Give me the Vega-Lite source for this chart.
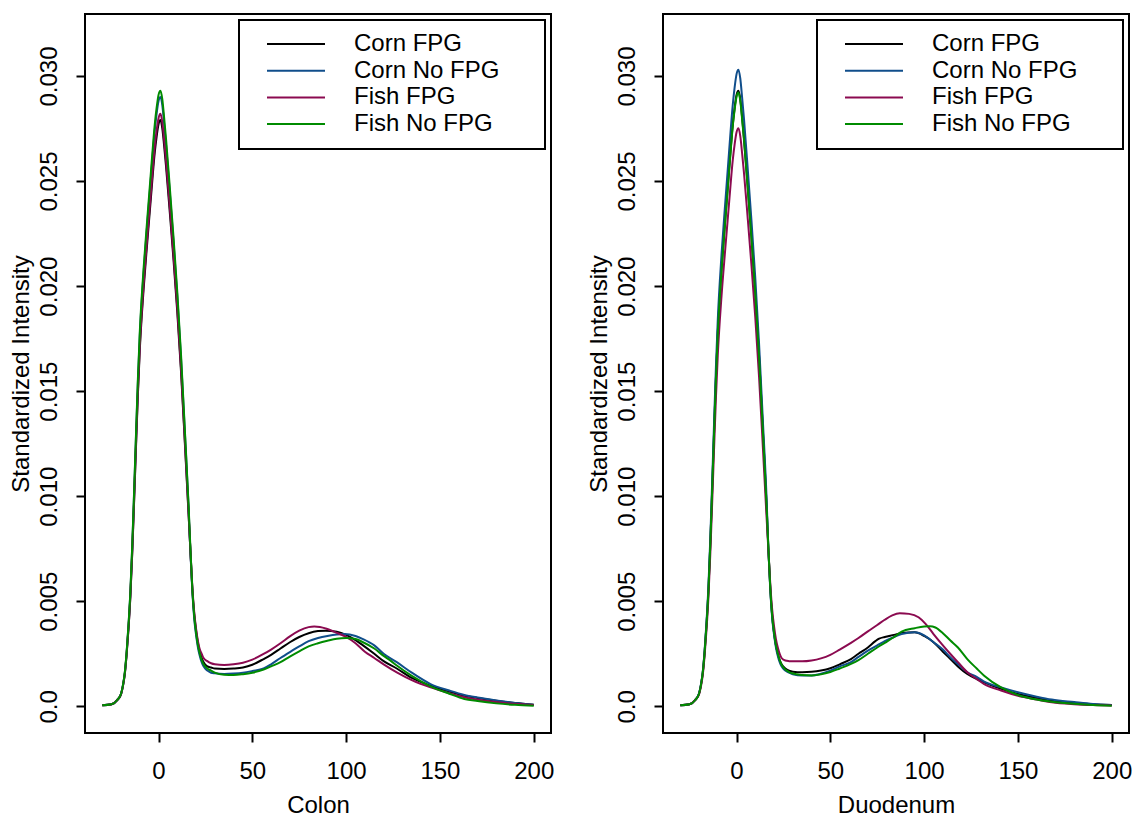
{
  "$schema": "https://vega.github.io/schema/vega-lite/v6.json",
  "padding": {"left": 8, "top": 13, "right": 0, "bottom": 0},
  "background": "white",
  "config": {
    "font": "Liberation Sans",
    "view": {"stroke": "black", "strokeWidth": 2},
    "axis": {
      "domain": false, "grid": false,
      "tickColor": "black", "tickWidth": 2, "tickSize": 9,
      "labelFont": "Liberation Sans", "labelFontSize": 24, "labelColor": "black",
      "titleFont": "Liberation Sans", "titleFontSize": 24, "titleFontWeight": "normal", "titleColor": "black",
      "labelOverlap": false
    },
    "legend": {
      "orient": "top-right", "offset": 6, "padding": 12,
      "fillColor": "white", "strokeColor": "black", "strokeWidth": 2,
      "symbolType": "M-6,0H6", "symbolSize": 93.4, "symbolStrokeWidth": 2,
      "symbolOffset": 33, "labelOffset": 46,
      "labelFont": "Liberation Sans", "labelFontSize": 24, "labelColor": "black",
      "labelLimit": 400, "rowPadding": 2.7
    }
  },
  "datasets": {
    "d": [
      {"p":"Colon","s":"Corn FPG","x":-30,"y":0.00005},{"p":"Colon","s":"Corn FPG","x":-25,"y":0.0001},{"p":"Colon","s":"Corn FPG","x":-22,"y":0.0003},{"p":"Colon","s":"Corn FPG","x":-20,"y":0.00057},{"p":"Colon","s":"Corn FPG","x":-19,"y":0.00095},{"p":"Colon","s":"Corn FPG","x":-18,"y":0.00152},{"p":"Colon","s":"Corn FPG","x":-17,"y":0.00248},{"p":"Colon","s":"Corn FPG","x":-16,"y":0.00371},{"p":"Colon","s":"Corn FPG","x":-15,"y":0.00524},{"p":"Colon","s":"Corn FPG","x":-14,"y":0.00733},{"p":"Colon","s":"Corn FPG","x":-13,"y":0.00981},{"p":"Colon","s":"Corn FPG","x":-12,"y":0.01238},{"p":"Colon","s":"Corn FPG","x":-11,"y":0.01485},{"p":"Colon","s":"Corn FPG","x":-10,"y":0.01695},{"p":"Colon","s":"Corn FPG","x":-8,"y":0.0198},{"p":"Colon","s":"Corn FPG","x":-6,"y":0.02209},{"p":"Colon","s":"Corn FPG","x":-4,"y":0.02428},{"p":"Colon","s":"Corn FPG","x":-2,"y":0.02637},{"p":"Colon","s":"Corn FPG","x":-1,"y":0.02713},{"p":"Colon","s":"Corn FPG","x":0,"y":0.0277},{"p":"Colon","s":"Corn FPG","x":1,"y":0.0279},{"p":"Colon","s":"Corn FPG","x":2,"y":0.02751},{"p":"Colon","s":"Corn FPG","x":3,"y":0.02666},{"p":"Colon","s":"Corn FPG","x":4,"y":0.0257},{"p":"Colon","s":"Corn FPG","x":6,"y":0.02351},{"p":"Colon","s":"Corn FPG","x":8,"y":0.02123},{"p":"Colon","s":"Corn FPG","x":10,"y":0.01875},{"p":"Colon","s":"Corn FPG","x":12,"y":0.0159},{"p":"Colon","s":"Corn FPG","x":14,"y":0.01257},{"p":"Colon","s":"Corn FPG","x":16,"y":0.00914},{"p":"Colon","s":"Corn FPG","x":17,"y":0.0074},{"p":"Colon","s":"Corn FPG","x":18,"y":0.0056},{"p":"Colon","s":"Corn FPG","x":19,"y":0.0044},{"p":"Colon","s":"Corn FPG","x":20,"y":0.0036},{"p":"Colon","s":"Corn FPG","x":21,"y":0.003},{"p":"Colon","s":"Corn FPG","x":22,"y":0.0026},{"p":"Colon","s":"Corn FPG","x":23,"y":0.0023},{"p":"Colon","s":"Corn FPG","x":24,"y":0.0021},{"p":"Colon","s":"Corn FPG","x":26,"y":0.0019},{"p":"Colon","s":"Corn FPG","x":28,"y":0.00185},{"p":"Colon","s":"Corn FPG","x":30,"y":0.0018},{"p":"Colon","s":"Corn FPG","x":35,"y":0.00178},{"p":"Colon","s":"Corn FPG","x":40,"y":0.0018},{"p":"Colon","s":"Corn FPG","x":45,"y":0.00185},{"p":"Colon","s":"Corn FPG","x":50,"y":0.00198},{"p":"Colon","s":"Corn FPG","x":56,"y":0.00225},{"p":"Colon","s":"Corn FPG","x":60,"y":0.00245},{"p":"Colon","s":"Corn FPG","x":65,"y":0.00275},{"p":"Colon","s":"Corn FPG","x":70,"y":0.00305},{"p":"Colon","s":"Corn FPG","x":75,"y":0.0033},{"p":"Colon","s":"Corn FPG","x":80,"y":0.00348},{"p":"Colon","s":"Corn FPG","x":85,"y":0.00358},{"p":"Colon","s":"Corn FPG","x":89,"y":0.0036},{"p":"Colon","s":"Corn FPG","x":95,"y":0.00355},{"p":"Colon","s":"Corn FPG","x":100,"y":0.0034},{"p":"Colon","s":"Corn FPG","x":105,"y":0.00315},{"p":"Colon","s":"Corn FPG","x":109,"y":0.0029},{"p":"Colon","s":"Corn FPG","x":115,"y":0.0025},{"p":"Colon","s":"Corn FPG","x":120,"y":0.00215},{"p":"Colon","s":"Corn FPG","x":127,"y":0.0018},{"p":"Colon","s":"Corn FPG","x":135,"y":0.00135},{"p":"Colon","s":"Corn FPG","x":145,"y":0.00098},{"p":"Colon","s":"Corn FPG","x":155,"y":0.0007},{"p":"Colon","s":"Corn FPG","x":163,"y":0.0005},{"p":"Colon","s":"Corn FPG","x":170,"y":0.0004},{"p":"Colon","s":"Corn FPG","x":180,"y":0.00027},{"p":"Colon","s":"Corn FPG","x":190,"y":0.00016},{"p":"Colon","s":"Corn FPG","x":200,"y":0.00008},

      {"p":"Colon","s":"Corn No FPG","x":-30,"y":0.00005},{"p":"Colon","s":"Corn No FPG","x":-25,"y":0.0001},{"p":"Colon","s":"Corn No FPG","x":-22,"y":0.0003},{"p":"Colon","s":"Corn No FPG","x":-20,"y":0.00059},{"p":"Colon","s":"Corn No FPG","x":-19,"y":0.00099},{"p":"Colon","s":"Corn No FPG","x":-18,"y":0.00158},{"p":"Colon","s":"Corn No FPG","x":-17,"y":0.00257},{"p":"Colon","s":"Corn No FPG","x":-16,"y":0.00386},{"p":"Colon","s":"Corn No FPG","x":-15,"y":0.00545},{"p":"Colon","s":"Corn No FPG","x":-14,"y":0.00762},{"p":"Colon","s":"Corn No FPG","x":-13,"y":0.0102},{"p":"Colon","s":"Corn No FPG","x":-12,"y":0.01287},{"p":"Colon","s":"Corn No FPG","x":-11,"y":0.01544},{"p":"Colon","s":"Corn No FPG","x":-10,"y":0.01762},{"p":"Colon","s":"Corn No FPG","x":-8,"y":0.02059},{"p":"Colon","s":"Corn No FPG","x":-6,"y":0.02297},{"p":"Colon","s":"Corn No FPG","x":-4,"y":0.02525},{"p":"Colon","s":"Corn No FPG","x":-2,"y":0.02742},{"p":"Colon","s":"Corn No FPG","x":-1,"y":0.02822},{"p":"Colon","s":"Corn No FPG","x":0,"y":0.02881},{"p":"Colon","s":"Corn No FPG","x":1,"y":0.029},{"p":"Colon","s":"Corn No FPG","x":2,"y":0.02861},{"p":"Colon","s":"Corn No FPG","x":3,"y":0.02772},{"p":"Colon","s":"Corn No FPG","x":4,"y":0.02673},{"p":"Colon","s":"Corn No FPG","x":6,"y":0.02445},{"p":"Colon","s":"Corn No FPG","x":8,"y":0.02208},{"p":"Colon","s":"Corn No FPG","x":10,"y":0.0195},{"p":"Colon","s":"Corn No FPG","x":12,"y":0.01653},{"p":"Colon","s":"Corn No FPG","x":14,"y":0.01307},{"p":"Colon","s":"Corn No FPG","x":16,"y":0.0095},{"p":"Colon","s":"Corn No FPG","x":17,"y":0.0073},{"p":"Colon","s":"Corn No FPG","x":18,"y":0.0055},{"p":"Colon","s":"Corn No FPG","x":19,"y":0.0042},{"p":"Colon","s":"Corn No FPG","x":20,"y":0.0034},{"p":"Colon","s":"Corn No FPG","x":21,"y":0.0028},{"p":"Colon","s":"Corn No FPG","x":22,"y":0.0024},{"p":"Colon","s":"Corn No FPG","x":23,"y":0.0021},{"p":"Colon","s":"Corn No FPG","x":24,"y":0.0019},{"p":"Colon","s":"Corn No FPG","x":26,"y":0.0017},{"p":"Colon","s":"Corn No FPG","x":28,"y":0.0016},{"p":"Colon","s":"Corn No FPG","x":30,"y":0.00157},{"p":"Colon","s":"Corn No FPG","x":35,"y":0.00154},{"p":"Colon","s":"Corn No FPG","x":40,"y":0.00156},{"p":"Colon","s":"Corn No FPG","x":45,"y":0.0016},{"p":"Colon","s":"Corn No FPG","x":50,"y":0.00168},{"p":"Colon","s":"Corn No FPG","x":56,"y":0.0018},{"p":"Colon","s":"Corn No FPG","x":60,"y":0.002},{"p":"Colon","s":"Corn No FPG","x":65,"y":0.0023},{"p":"Colon","s":"Corn No FPG","x":70,"y":0.00258},{"p":"Colon","s":"Corn No FPG","x":75,"y":0.00285},{"p":"Colon","s":"Corn No FPG","x":80,"y":0.0031},{"p":"Colon","s":"Corn No FPG","x":85,"y":0.00325},{"p":"Colon","s":"Corn No FPG","x":90,"y":0.00335},{"p":"Colon","s":"Corn No FPG","x":95,"y":0.00342},{"p":"Colon","s":"Corn No FPG","x":99,"y":0.00344},{"p":"Colon","s":"Corn No FPG","x":105,"y":0.00335},{"p":"Colon","s":"Corn No FPG","x":109,"y":0.0032},{"p":"Colon","s":"Corn No FPG","x":115,"y":0.0029},{"p":"Colon","s":"Corn No FPG","x":120,"y":0.0025},{"p":"Colon","s":"Corn No FPG","x":127,"y":0.0021},{"p":"Colon","s":"Corn No FPG","x":135,"y":0.0016},{"p":"Colon","s":"Corn No FPG","x":145,"y":0.00106},{"p":"Colon","s":"Corn No FPG","x":155,"y":0.00075},{"p":"Colon","s":"Corn No FPG","x":163,"y":0.00054},{"p":"Colon","s":"Corn No FPG","x":170,"y":0.00042},{"p":"Colon","s":"Corn No FPG","x":180,"y":0.00028},{"p":"Colon","s":"Corn No FPG","x":190,"y":0.00016},{"p":"Colon","s":"Corn No FPG","x":200,"y":0.00008},

      {"p":"Colon","s":"Fish FPG","x":-30,"y":0.00005},{"p":"Colon","s":"Fish FPG","x":-25,"y":0.0001},{"p":"Colon","s":"Fish FPG","x":-22,"y":0.0003},{"p":"Colon","s":"Fish FPG","x":-20,"y":0.00058},{"p":"Colon","s":"Fish FPG","x":-19,"y":0.00096},{"p":"Colon","s":"Fish FPG","x":-18,"y":0.00154},{"p":"Colon","s":"Fish FPG","x":-17,"y":0.0025},{"p":"Colon","s":"Fish FPG","x":-16,"y":0.00375},{"p":"Colon","s":"Fish FPG","x":-15,"y":0.00529},{"p":"Colon","s":"Fish FPG","x":-14,"y":0.00741},{"p":"Colon","s":"Fish FPG","x":-13,"y":0.00991},{"p":"Colon","s":"Fish FPG","x":-12,"y":0.01251},{"p":"Colon","s":"Fish FPG","x":-11,"y":0.01501},{"p":"Colon","s":"Fish FPG","x":-10,"y":0.01712},{"p":"Colon","s":"Fish FPG","x":-8,"y":0.02001},{"p":"Colon","s":"Fish FPG","x":-6,"y":0.02232},{"p":"Colon","s":"Fish FPG","x":-4,"y":0.02453},{"p":"Colon","s":"Fish FPG","x":-2,"y":0.02665},{"p":"Colon","s":"Fish FPG","x":-1,"y":0.02742},{"p":"Colon","s":"Fish FPG","x":0,"y":0.02799},{"p":"Colon","s":"Fish FPG","x":1,"y":0.0282},{"p":"Colon","s":"Fish FPG","x":2,"y":0.0278},{"p":"Colon","s":"Fish FPG","x":3,"y":0.02694},{"p":"Colon","s":"Fish FPG","x":4,"y":0.02597},{"p":"Colon","s":"Fish FPG","x":6,"y":0.02376},{"p":"Colon","s":"Fish FPG","x":8,"y":0.02145},{"p":"Colon","s":"Fish FPG","x":10,"y":0.01895},{"p":"Colon","s":"Fish FPG","x":12,"y":0.01607},{"p":"Colon","s":"Fish FPG","x":14,"y":0.0127},{"p":"Colon","s":"Fish FPG","x":16,"y":0.00924},{"p":"Colon","s":"Fish FPG","x":17,"y":0.0074},{"p":"Colon","s":"Fish FPG","x":18,"y":0.0057},{"p":"Colon","s":"Fish FPG","x":19,"y":0.0045},{"p":"Colon","s":"Fish FPG","x":20,"y":0.0037},{"p":"Colon","s":"Fish FPG","x":21,"y":0.0031},{"p":"Colon","s":"Fish FPG","x":22,"y":0.0027},{"p":"Colon","s":"Fish FPG","x":23,"y":0.0025},{"p":"Colon","s":"Fish FPG","x":24,"y":0.0023},{"p":"Colon","s":"Fish FPG","x":26,"y":0.00215},{"p":"Colon","s":"Fish FPG","x":28,"y":0.00205},{"p":"Colon","s":"Fish FPG","x":30,"y":0.002},{"p":"Colon","s":"Fish FPG","x":35,"y":0.00197},{"p":"Colon","s":"Fish FPG","x":40,"y":0.002},{"p":"Colon","s":"Fish FPG","x":45,"y":0.00207},{"p":"Colon","s":"Fish FPG","x":50,"y":0.00222},{"p":"Colon","s":"Fish FPG","x":56,"y":0.00249},{"p":"Colon","s":"Fish FPG","x":60,"y":0.0027},{"p":"Colon","s":"Fish FPG","x":65,"y":0.003},{"p":"Colon","s":"Fish FPG","x":70,"y":0.00333},{"p":"Colon","s":"Fish FPG","x":75,"y":0.0036},{"p":"Colon","s":"Fish FPG","x":80,"y":0.00377},{"p":"Colon","s":"Fish FPG","x":83,"y":0.0038},{"p":"Colon","s":"Fish FPG","x":86,"y":0.00378},{"p":"Colon","s":"Fish FPG","x":90,"y":0.00368},{"p":"Colon","s":"Fish FPG","x":95,"y":0.0035},{"p":"Colon","s":"Fish FPG","x":100,"y":0.0033},{"p":"Colon","s":"Fish FPG","x":105,"y":0.003},{"p":"Colon","s":"Fish FPG","x":110,"y":0.0026},{"p":"Colon","s":"Fish FPG","x":115,"y":0.0023},{"p":"Colon","s":"Fish FPG","x":120,"y":0.002},{"p":"Colon","s":"Fish FPG","x":127,"y":0.00162},{"p":"Colon","s":"Fish FPG","x":135,"y":0.00125},{"p":"Colon","s":"Fish FPG","x":145,"y":0.0009},{"p":"Colon","s":"Fish FPG","x":155,"y":0.00062},{"p":"Colon","s":"Fish FPG","x":163,"y":0.00043},{"p":"Colon","s":"Fish FPG","x":175,"y":0.00025},{"p":"Colon","s":"Fish FPG","x":190,"y":0.00012},{"p":"Colon","s":"Fish FPG","x":200,"y":0.00006},

      {"p":"Colon","s":"Fish No FPG","x":-30,"y":0.00005},{"p":"Colon","s":"Fish No FPG","x":-25,"y":0.0001},{"p":"Colon","s":"Fish No FPG","x":-22,"y":0.0003},{"p":"Colon","s":"Fish No FPG","x":-20,"y":0.0006},{"p":"Colon","s":"Fish No FPG","x":-19,"y":0.001},{"p":"Colon","s":"Fish No FPG","x":-18,"y":0.0016},{"p":"Colon","s":"Fish No FPG","x":-17,"y":0.0026},{"p":"Colon","s":"Fish No FPG","x":-16,"y":0.0039},{"p":"Colon","s":"Fish No FPG","x":-15,"y":0.0055},{"p":"Colon","s":"Fish No FPG","x":-14,"y":0.0077},{"p":"Colon","s":"Fish No FPG","x":-13,"y":0.0103},{"p":"Colon","s":"Fish No FPG","x":-12,"y":0.013},{"p":"Colon","s":"Fish No FPG","x":-11,"y":0.0156},{"p":"Colon","s":"Fish No FPG","x":-10,"y":0.0178},{"p":"Colon","s":"Fish No FPG","x":-8,"y":0.0208},{"p":"Colon","s":"Fish No FPG","x":-6,"y":0.0232},{"p":"Colon","s":"Fish No FPG","x":-4,"y":0.0255},{"p":"Colon","s":"Fish No FPG","x":-2,"y":0.0277},{"p":"Colon","s":"Fish No FPG","x":-1,"y":0.0285},{"p":"Colon","s":"Fish No FPG","x":0,"y":0.0291},{"p":"Colon","s":"Fish No FPG","x":1,"y":0.0293},{"p":"Colon","s":"Fish No FPG","x":2,"y":0.0289},{"p":"Colon","s":"Fish No FPG","x":3,"y":0.028},{"p":"Colon","s":"Fish No FPG","x":4,"y":0.027},{"p":"Colon","s":"Fish No FPG","x":6,"y":0.0247},{"p":"Colon","s":"Fish No FPG","x":8,"y":0.0223},{"p":"Colon","s":"Fish No FPG","x":10,"y":0.0197},{"p":"Colon","s":"Fish No FPG","x":12,"y":0.0167},{"p":"Colon","s":"Fish No FPG","x":14,"y":0.0132},{"p":"Colon","s":"Fish No FPG","x":16,"y":0.0096},{"p":"Colon","s":"Fish No FPG","x":17,"y":0.0075},{"p":"Colon","s":"Fish No FPG","x":18,"y":0.0056},{"p":"Colon","s":"Fish No FPG","x":19,"y":0.0043},{"p":"Colon","s":"Fish No FPG","x":20,"y":0.0035},{"p":"Colon","s":"Fish No FPG","x":21,"y":0.0029},{"p":"Colon","s":"Fish No FPG","x":22,"y":0.0025},{"p":"Colon","s":"Fish No FPG","x":23,"y":0.0022},{"p":"Colon","s":"Fish No FPG","x":24,"y":0.002},{"p":"Colon","s":"Fish No FPG","x":26,"y":0.0018},{"p":"Colon","s":"Fish No FPG","x":28,"y":0.0017},{"p":"Colon","s":"Fish No FPG","x":30,"y":0.0016},{"p":"Colon","s":"Fish No FPG","x":35,"y":0.0015},{"p":"Colon","s":"Fish No FPG","x":40,"y":0.00149},{"p":"Colon","s":"Fish No FPG","x":45,"y":0.00153},{"p":"Colon","s":"Fish No FPG","x":50,"y":0.0016},{"p":"Colon","s":"Fish No FPG","x":56,"y":0.00175},{"p":"Colon","s":"Fish No FPG","x":60,"y":0.0019},{"p":"Colon","s":"Fish No FPG","x":65,"y":0.0021},{"p":"Colon","s":"Fish No FPG","x":70,"y":0.00237},{"p":"Colon","s":"Fish No FPG","x":75,"y":0.00262},{"p":"Colon","s":"Fish No FPG","x":80,"y":0.00285},{"p":"Colon","s":"Fish No FPG","x":85,"y":0.003},{"p":"Colon","s":"Fish No FPG","x":90,"y":0.00312},{"p":"Colon","s":"Fish No FPG","x":95,"y":0.00322},{"p":"Colon","s":"Fish No FPG","x":100,"y":0.00325},{"p":"Colon","s":"Fish No FPG","x":105,"y":0.0032},{"p":"Colon","s":"Fish No FPG","x":109,"y":0.00305},{"p":"Colon","s":"Fish No FPG","x":115,"y":0.00275},{"p":"Colon","s":"Fish No FPG","x":120,"y":0.0024},{"p":"Colon","s":"Fish No FPG","x":124,"y":0.00215},{"p":"Colon","s":"Fish No FPG","x":127,"y":0.00194},{"p":"Colon","s":"Fish No FPG","x":135,"y":0.00145},{"p":"Colon","s":"Fish No FPG","x":145,"y":0.00095},{"p":"Colon","s":"Fish No FPG","x":155,"y":0.0006},{"p":"Colon","s":"Fish No FPG","x":163,"y":0.00035},{"p":"Colon","s":"Fish No FPG","x":170,"y":0.00025},{"p":"Colon","s":"Fish No FPG","x":180,"y":0.00014},{"p":"Colon","s":"Fish No FPG","x":190,"y":0.00007},{"p":"Colon","s":"Fish No FPG","x":200,"y":0.00003},

      {"p":"Duodenum","s":"Corn FPG","x":-30,"y":0.00005},{"p":"Duodenum","s":"Corn FPG","x":-25,"y":0.0001},{"p":"Duodenum","s":"Corn FPG","x":-22,"y":0.0003},{"p":"Duodenum","s":"Corn FPG","x":-20,"y":0.0006},{"p":"Duodenum","s":"Corn FPG","x":-19,"y":0.001},{"p":"Duodenum","s":"Corn FPG","x":-18,"y":0.0016},{"p":"Duodenum","s":"Corn FPG","x":-17,"y":0.0026},{"p":"Duodenum","s":"Corn FPG","x":-16,"y":0.0039},{"p":"Duodenum","s":"Corn FPG","x":-15,"y":0.0055},{"p":"Duodenum","s":"Corn FPG","x":-14,"y":0.0077},{"p":"Duodenum","s":"Corn FPG","x":-13,"y":0.0103},{"p":"Duodenum","s":"Corn FPG","x":-12,"y":0.013},{"p":"Duodenum","s":"Corn FPG","x":-11,"y":0.0156},{"p":"Duodenum","s":"Corn FPG","x":-10,"y":0.0178},{"p":"Duodenum","s":"Corn FPG","x":-8,"y":0.0208},{"p":"Duodenum","s":"Corn FPG","x":-6,"y":0.0232},{"p":"Duodenum","s":"Corn FPG","x":-4,"y":0.0255},{"p":"Duodenum","s":"Corn FPG","x":-2,"y":0.0277},{"p":"Duodenum","s":"Corn FPG","x":-1,"y":0.0285},{"p":"Duodenum","s":"Corn FPG","x":0,"y":0.0291},{"p":"Duodenum","s":"Corn FPG","x":1,"y":0.0293},{"p":"Duodenum","s":"Corn FPG","x":2,"y":0.0289},{"p":"Duodenum","s":"Corn FPG","x":3,"y":0.028},{"p":"Duodenum","s":"Corn FPG","x":4,"y":0.027},{"p":"Duodenum","s":"Corn FPG","x":6,"y":0.0247},{"p":"Duodenum","s":"Corn FPG","x":8,"y":0.0223},{"p":"Duodenum","s":"Corn FPG","x":10,"y":0.0197},{"p":"Duodenum","s":"Corn FPG","x":12,"y":0.0167},{"p":"Duodenum","s":"Corn FPG","x":14,"y":0.0132},{"p":"Duodenum","s":"Corn FPG","x":16,"y":0.0096},{"p":"Duodenum","s":"Corn FPG","x":17,"y":0.0074},{"p":"Duodenum","s":"Corn FPG","x":18,"y":0.0056},{"p":"Duodenum","s":"Corn FPG","x":19,"y":0.0043},{"p":"Duodenum","s":"Corn FPG","x":20,"y":0.0035},{"p":"Duodenum","s":"Corn FPG","x":21,"y":0.0029},{"p":"Duodenum","s":"Corn FPG","x":22,"y":0.0025},{"p":"Duodenum","s":"Corn FPG","x":23,"y":0.0022},{"p":"Duodenum","s":"Corn FPG","x":24,"y":0.002},{"p":"Duodenum","s":"Corn FPG","x":26,"y":0.0018},{"p":"Duodenum","s":"Corn FPG","x":28,"y":0.0017},{"p":"Duodenum","s":"Corn FPG","x":30,"y":0.00165},{"p":"Duodenum","s":"Corn FPG","x":35,"y":0.00162},{"p":"Duodenum","s":"Corn FPG","x":40,"y":0.00164},{"p":"Duodenum","s":"Corn FPG","x":45,"y":0.0017},{"p":"Duodenum","s":"Corn FPG","x":50,"y":0.00181},{"p":"Duodenum","s":"Corn FPG","x":55,"y":0.002},{"p":"Duodenum","s":"Corn FPG","x":61,"y":0.00225},{"p":"Duodenum","s":"Corn FPG","x":65,"y":0.0025},{"p":"Duodenum","s":"Corn FPG","x":70,"y":0.0028},{"p":"Duodenum","s":"Corn FPG","x":74,"y":0.0031},{"p":"Duodenum","s":"Corn FPG","x":76,"y":0.00322},{"p":"Duodenum","s":"Corn FPG","x":79,"y":0.0033},{"p":"Duodenum","s":"Corn FPG","x":84,"y":0.0034},{"p":"Duodenum","s":"Corn FPG","x":88,"y":0.00349},{"p":"Duodenum","s":"Corn FPG","x":95,"y":0.00352},{"p":"Duodenum","s":"Corn FPG","x":100,"y":0.00335},{"p":"Duodenum","s":"Corn FPG","x":105,"y":0.00305},{"p":"Duodenum","s":"Corn FPG","x":110,"y":0.0026},{"p":"Duodenum","s":"Corn FPG","x":114,"y":0.00225},{"p":"Duodenum","s":"Corn FPG","x":118,"y":0.0019},{"p":"Duodenum","s":"Corn FPG","x":123,"y":0.00154},{"p":"Duodenum","s":"Corn FPG","x":128,"y":0.0013},{"p":"Duodenum","s":"Corn FPG","x":132,"y":0.00114},{"p":"Duodenum","s":"Corn FPG","x":141,"y":0.00083},{"p":"Duodenum","s":"Corn FPG","x":150,"y":0.00059},{"p":"Duodenum","s":"Corn FPG","x":160,"y":0.0004},{"p":"Duodenum","s":"Corn FPG","x":168,"y":0.00027},{"p":"Duodenum","s":"Corn FPG","x":180,"y":0.00016},{"p":"Duodenum","s":"Corn FPG","x":190,"y":0.0001},{"p":"Duodenum","s":"Corn FPG","x":200,"y":0.00006},

      {"p":"Duodenum","s":"Corn No FPG","x":-30,"y":0.00005},{"p":"Duodenum","s":"Corn No FPG","x":-25,"y":0.0001},{"p":"Duodenum","s":"Corn No FPG","x":-22,"y":0.00031},{"p":"Duodenum","s":"Corn No FPG","x":-20,"y":0.00062},{"p":"Duodenum","s":"Corn No FPG","x":-19,"y":0.00103},{"p":"Duodenum","s":"Corn No FPG","x":-18,"y":0.00165},{"p":"Duodenum","s":"Corn No FPG","x":-17,"y":0.00269},{"p":"Duodenum","s":"Corn No FPG","x":-16,"y":0.00403},{"p":"Duodenum","s":"Corn No FPG","x":-15,"y":0.00569},{"p":"Duodenum","s":"Corn No FPG","x":-14,"y":0.00796},{"p":"Duodenum","s":"Corn No FPG","x":-13,"y":0.01065},{"p":"Duodenum","s":"Corn No FPG","x":-12,"y":0.01344},{"p":"Duodenum","s":"Corn No FPG","x":-11,"y":0.01613},{"p":"Duodenum","s":"Corn No FPG","x":-10,"y":0.0184},{"p":"Duodenum","s":"Corn No FPG","x":-8,"y":0.02151},{"p":"Duodenum","s":"Corn No FPG","x":-6,"y":0.02399},{"p":"Duodenum","s":"Corn No FPG","x":-4,"y":0.02637},{"p":"Duodenum","s":"Corn No FPG","x":-2,"y":0.02864},{"p":"Duodenum","s":"Corn No FPG","x":-1,"y":0.02947},{"p":"Duodenum","s":"Corn No FPG","x":0,"y":0.03009},{"p":"Duodenum","s":"Corn No FPG","x":1,"y":0.0303},{"p":"Duodenum","s":"Corn No FPG","x":2,"y":0.02988},{"p":"Duodenum","s":"Corn No FPG","x":3,"y":0.02895},{"p":"Duodenum","s":"Corn No FPG","x":4,"y":0.02792},{"p":"Duodenum","s":"Corn No FPG","x":6,"y":0.02554},{"p":"Duodenum","s":"Corn No FPG","x":8,"y":0.02306},{"p":"Duodenum","s":"Corn No FPG","x":10,"y":0.02037},{"p":"Duodenum","s":"Corn No FPG","x":12,"y":0.01727},{"p":"Duodenum","s":"Corn No FPG","x":14,"y":0.01365},{"p":"Duodenum","s":"Corn No FPG","x":16,"y":0.00993},{"p":"Duodenum","s":"Corn No FPG","x":17,"y":0.0074},{"p":"Duodenum","s":"Corn No FPG","x":18,"y":0.0055},{"p":"Duodenum","s":"Corn No FPG","x":19,"y":0.0042},{"p":"Duodenum","s":"Corn No FPG","x":20,"y":0.0034},{"p":"Duodenum","s":"Corn No FPG","x":21,"y":0.0028},{"p":"Duodenum","s":"Corn No FPG","x":22,"y":0.0024},{"p":"Duodenum","s":"Corn No FPG","x":23,"y":0.0021},{"p":"Duodenum","s":"Corn No FPG","x":24,"y":0.0019},{"p":"Duodenum","s":"Corn No FPG","x":26,"y":0.0017},{"p":"Duodenum","s":"Corn No FPG","x":28,"y":0.0016},{"p":"Duodenum","s":"Corn No FPG","x":30,"y":0.00153},{"p":"Duodenum","s":"Corn No FPG","x":35,"y":0.00147},{"p":"Duodenum","s":"Corn No FPG","x":40,"y":0.00147},{"p":"Duodenum","s":"Corn No FPG","x":45,"y":0.00155},{"p":"Duodenum","s":"Corn No FPG","x":50,"y":0.0017},{"p":"Duodenum","s":"Corn No FPG","x":55,"y":0.0019},{"p":"Duodenum","s":"Corn No FPG","x":61,"y":0.0021},{"p":"Duodenum","s":"Corn No FPG","x":65,"y":0.00235},{"p":"Duodenum","s":"Corn No FPG","x":70,"y":0.00265},{"p":"Duodenum","s":"Corn No FPG","x":75,"y":0.0029},{"p":"Duodenum","s":"Corn No FPG","x":79,"y":0.0031},{"p":"Duodenum","s":"Corn No FPG","x":84,"y":0.0033},{"p":"Duodenum","s":"Corn No FPG","x":88,"y":0.00344},{"p":"Duodenum","s":"Corn No FPG","x":95,"y":0.00352},{"p":"Duodenum","s":"Corn No FPG","x":100,"y":0.00338},{"p":"Duodenum","s":"Corn No FPG","x":105,"y":0.00305},{"p":"Duodenum","s":"Corn No FPG","x":110,"y":0.0027},{"p":"Duodenum","s":"Corn No FPG","x":114,"y":0.00233},{"p":"Duodenum","s":"Corn No FPG","x":118,"y":0.002},{"p":"Duodenum","s":"Corn No FPG","x":123,"y":0.00162},{"p":"Duodenum","s":"Corn No FPG","x":128,"y":0.0014},{"p":"Duodenum","s":"Corn No FPG","x":132,"y":0.00117},{"p":"Duodenum","s":"Corn No FPG","x":141,"y":0.0009},{"p":"Duodenum","s":"Corn No FPG","x":150,"y":0.00067},{"p":"Duodenum","s":"Corn No FPG","x":160,"y":0.00046},{"p":"Duodenum","s":"Corn No FPG","x":168,"y":0.00032},{"p":"Duodenum","s":"Corn No FPG","x":180,"y":0.0002},{"p":"Duodenum","s":"Corn No FPG","x":190,"y":0.00011},{"p":"Duodenum","s":"Corn No FPG","x":200,"y":0.00006},

      {"p":"Duodenum","s":"Fish FPG","x":-30,"y":0.00005},{"p":"Duodenum","s":"Fish FPG","x":-25,"y":0.0001},{"p":"Duodenum","s":"Fish FPG","x":-22,"y":0.0003},{"p":"Duodenum","s":"Fish FPG","x":-20,"y":0.00056},{"p":"Duodenum","s":"Fish FPG","x":-19,"y":0.00094},{"p":"Duodenum","s":"Fish FPG","x":-18,"y":0.0015},{"p":"Duodenum","s":"Fish FPG","x":-17,"y":0.00244},{"p":"Duodenum","s":"Fish FPG","x":-16,"y":0.00366},{"p":"Duodenum","s":"Fish FPG","x":-15,"y":0.00516},{"p":"Duodenum","s":"Fish FPG","x":-14,"y":0.00723},{"p":"Duodenum","s":"Fish FPG","x":-13,"y":0.00967},{"p":"Duodenum","s":"Fish FPG","x":-12,"y":0.01221},{"p":"Duodenum","s":"Fish FPG","x":-11,"y":0.01465},{"p":"Duodenum","s":"Fish FPG","x":-10,"y":0.01671},{"p":"Duodenum","s":"Fish FPG","x":-8,"y":0.01953},{"p":"Duodenum","s":"Fish FPG","x":-6,"y":0.02178},{"p":"Duodenum","s":"Fish FPG","x":-4,"y":0.02394},{"p":"Duodenum","s":"Fish FPG","x":-2,"y":0.02601},{"p":"Duodenum","s":"Fish FPG","x":-1,"y":0.02676},{"p":"Duodenum","s":"Fish FPG","x":0,"y":0.02732},{"p":"Duodenum","s":"Fish FPG","x":1,"y":0.02751},{"p":"Duodenum","s":"Fish FPG","x":2,"y":0.02714},{"p":"Duodenum","s":"Fish FPG","x":3,"y":0.02629},{"p":"Duodenum","s":"Fish FPG","x":4,"y":0.02535},{"p":"Duodenum","s":"Fish FPG","x":6,"y":0.02319},{"p":"Duodenum","s":"Fish FPG","x":8,"y":0.02094},{"p":"Duodenum","s":"Fish FPG","x":10,"y":0.0185},{"p":"Duodenum","s":"Fish FPG","x":12,"y":0.01568},{"p":"Duodenum","s":"Fish FPG","x":14,"y":0.01239},{"p":"Duodenum","s":"Fish FPG","x":16,"y":0.00901},{"p":"Duodenum","s":"Fish FPG","x":17,"y":0.0074},{"p":"Duodenum","s":"Fish FPG","x":18,"y":0.0058},{"p":"Duodenum","s":"Fish FPG","x":19,"y":0.0046},{"p":"Duodenum","s":"Fish FPG","x":20,"y":0.0038},{"p":"Duodenum","s":"Fish FPG","x":21,"y":0.0032},{"p":"Duodenum","s":"Fish FPG","x":22,"y":0.0028},{"p":"Duodenum","s":"Fish FPG","x":23,"y":0.0025},{"p":"Duodenum","s":"Fish FPG","x":24,"y":0.0023},{"p":"Duodenum","s":"Fish FPG","x":26,"y":0.00218},{"p":"Duodenum","s":"Fish FPG","x":28,"y":0.00215},{"p":"Duodenum","s":"Fish FPG","x":30,"y":0.00214},{"p":"Duodenum","s":"Fish FPG","x":35,"y":0.00214},{"p":"Duodenum","s":"Fish FPG","x":40,"y":0.00218},{"p":"Duodenum","s":"Fish FPG","x":45,"y":0.00228},{"p":"Duodenum","s":"Fish FPG","x":50,"y":0.00245},{"p":"Duodenum","s":"Fish FPG","x":55,"y":0.0027},{"p":"Duodenum","s":"Fish FPG","x":61,"y":0.00302},{"p":"Duodenum","s":"Fish FPG","x":65,"y":0.00325},{"p":"Duodenum","s":"Fish FPG","x":70,"y":0.00357},{"p":"Duodenum","s":"Fish FPG","x":75,"y":0.00387},{"p":"Duodenum","s":"Fish FPG","x":79,"y":0.00412},{"p":"Duodenum","s":"Fish FPG","x":83,"y":0.00433},{"p":"Duodenum","s":"Fish FPG","x":87,"y":0.00443},{"p":"Duodenum","s":"Fish FPG","x":92,"y":0.0044},{"p":"Duodenum","s":"Fish FPG","x":97,"y":0.00424},{"p":"Duodenum","s":"Fish FPG","x":101,"y":0.0039},{"p":"Duodenum","s":"Fish FPG","x":105,"y":0.00344},{"p":"Duodenum","s":"Fish FPG","x":110,"y":0.0029},{"p":"Duodenum","s":"Fish FPG","x":114,"y":0.00249},{"p":"Duodenum","s":"Fish FPG","x":118,"y":0.0021},{"p":"Duodenum","s":"Fish FPG","x":123,"y":0.00162},{"p":"Duodenum","s":"Fish FPG","x":128,"y":0.0013},{"p":"Duodenum","s":"Fish FPG","x":132,"y":0.00106},{"p":"Duodenum","s":"Fish FPG","x":141,"y":0.00075},{"p":"Duodenum","s":"Fish FPG","x":150,"y":0.0005},{"p":"Duodenum","s":"Fish FPG","x":160,"y":0.00032},{"p":"Duodenum","s":"Fish FPG","x":168,"y":0.00019},{"p":"Duodenum","s":"Fish FPG","x":180,"y":0.0001},{"p":"Duodenum","s":"Fish FPG","x":190,"y":0.00006},{"p":"Duodenum","s":"Fish FPG","x":200,"y":0.00004},

      {"p":"Duodenum","s":"Fish No FPG","x":-30,"y":0.00005},{"p":"Duodenum","s":"Fish No FPG","x":-25,"y":0.0001},{"p":"Duodenum","s":"Fish No FPG","x":-22,"y":0.0003},{"p":"Duodenum","s":"Fish No FPG","x":-20,"y":0.0006},{"p":"Duodenum","s":"Fish No FPG","x":-19,"y":0.001},{"p":"Duodenum","s":"Fish No FPG","x":-18,"y":0.0016},{"p":"Duodenum","s":"Fish No FPG","x":-17,"y":0.00259},{"p":"Duodenum","s":"Fish No FPG","x":-16,"y":0.00389},{"p":"Duodenum","s":"Fish No FPG","x":-15,"y":0.00548},{"p":"Duodenum","s":"Fish No FPG","x":-14,"y":0.00768},{"p":"Duodenum","s":"Fish No FPG","x":-13,"y":0.01027},{"p":"Duodenum","s":"Fish No FPG","x":-12,"y":0.01296},{"p":"Duodenum","s":"Fish No FPG","x":-11,"y":0.01555},{"p":"Duodenum","s":"Fish No FPG","x":-10,"y":0.01775},{"p":"Duodenum","s":"Fish No FPG","x":-8,"y":0.02074},{"p":"Duodenum","s":"Fish No FPG","x":-6,"y":0.02313},{"p":"Duodenum","s":"Fish No FPG","x":-4,"y":0.02542},{"p":"Duodenum","s":"Fish No FPG","x":-2,"y":0.02762},{"p":"Duodenum","s":"Fish No FPG","x":-1,"y":0.02841},{"p":"Duodenum","s":"Fish No FPG","x":0,"y":0.02901},{"p":"Duodenum","s":"Fish No FPG","x":1,"y":0.02921},{"p":"Duodenum","s":"Fish No FPG","x":2,"y":0.02881},{"p":"Duodenum","s":"Fish No FPG","x":3,"y":0.02792},{"p":"Duodenum","s":"Fish No FPG","x":4,"y":0.02692},{"p":"Duodenum","s":"Fish No FPG","x":6,"y":0.02463},{"p":"Duodenum","s":"Fish No FPG","x":8,"y":0.02223},{"p":"Duodenum","s":"Fish No FPG","x":10,"y":0.01964},{"p":"Duodenum","s":"Fish No FPG","x":12,"y":0.01665},{"p":"Duodenum","s":"Fish No FPG","x":14,"y":0.01316},{"p":"Duodenum","s":"Fish No FPG","x":16,"y":0.00957},{"p":"Duodenum","s":"Fish No FPG","x":17,"y":0.0075},{"p":"Duodenum","s":"Fish No FPG","x":18,"y":0.0056},{"p":"Duodenum","s":"Fish No FPG","x":19,"y":0.0043},{"p":"Duodenum","s":"Fish No FPG","x":20,"y":0.0035},{"p":"Duodenum","s":"Fish No FPG","x":21,"y":0.0029},{"p":"Duodenum","s":"Fish No FPG","x":22,"y":0.0025},{"p":"Duodenum","s":"Fish No FPG","x":23,"y":0.0022},{"p":"Duodenum","s":"Fish No FPG","x":24,"y":0.00198},{"p":"Duodenum","s":"Fish No FPG","x":26,"y":0.00175},{"p":"Duodenum","s":"Fish No FPG","x":28,"y":0.00163},{"p":"Duodenum","s":"Fish No FPG","x":30,"y":0.00156},{"p":"Duodenum","s":"Fish No FPG","x":35,"y":0.00149},{"p":"Duodenum","s":"Fish No FPG","x":40,"y":0.00147},{"p":"Duodenum","s":"Fish No FPG","x":45,"y":0.00152},{"p":"Duodenum","s":"Fish No FPG","x":50,"y":0.00163},{"p":"Duodenum","s":"Fish No FPG","x":55,"y":0.0018},{"p":"Duodenum","s":"Fish No FPG","x":61,"y":0.00202},{"p":"Duodenum","s":"Fish No FPG","x":65,"y":0.0022},{"p":"Duodenum","s":"Fish No FPG","x":70,"y":0.0025},{"p":"Duodenum","s":"Fish No FPG","x":75,"y":0.0028},{"p":"Duodenum","s":"Fish No FPG","x":79,"y":0.00302},{"p":"Duodenum","s":"Fish No FPG","x":84,"y":0.0033},{"p":"Duodenum","s":"Fish No FPG","x":88,"y":0.00355},{"p":"Duodenum","s":"Fish No FPG","x":95,"y":0.00372},{"p":"Duodenum","s":"Fish No FPG","x":100,"y":0.0038},{"p":"Duodenum","s":"Fish No FPG","x":103,"y":0.00381},{"p":"Duodenum","s":"Fish No FPG","x":106,"y":0.00375},{"p":"Duodenum","s":"Fish No FPG","x":110,"y":0.00348},{"p":"Duodenum","s":"Fish No FPG","x":114,"y":0.00313},{"p":"Duodenum","s":"Fish No FPG","x":118,"y":0.0028},{"p":"Duodenum","s":"Fish No FPG","x":123,"y":0.00225},{"p":"Duodenum","s":"Fish No FPG","x":128,"y":0.0018},{"p":"Duodenum","s":"Fish No FPG","x":132,"y":0.00146},{"p":"Duodenum","s":"Fish No FPG","x":141,"y":0.0009},{"p":"Duodenum","s":"Fish No FPG","x":150,"y":0.00054},{"p":"Duodenum","s":"Fish No FPG","x":160,"y":0.00032},{"p":"Duodenum","s":"Fish No FPG","x":168,"y":0.00022},{"p":"Duodenum","s":"Fish No FPG","x":180,"y":0.00012},{"p":"Duodenum","s":"Fish No FPG","x":190,"y":0.00006},{"p":"Duodenum","s":"Fish No FPG","x":200,"y":0.00003}
    ]
  },
  "bounds": "flush",
  "spacing": 112,
  "resolve": {"legend": {"color": "independent"}},
  "hconcat": [
    {
      "width": 466, "height": 719,
      "data": {"name": "d"},
      "transform": [{"filter": "datum.p == 'Colon'"}],
      "mark": {"type": "line", "strokeWidth": 2, "interpolate": "monotone"},
      "encoding": {
        "x": {"field": "x", "type": "quantitative",
          "scale": {"domain": [-39.2, 209.2], "nice": false, "zero": false},
          "axis": {"values": [0, 50, 100, 150, 200], "title": "Colon", "titleY": 79.5, "titleBaseline": "alphabetic", "labelPadding": 17, "labelFlush": false}},
        "y": {"field": "y", "type": "quantitative",
          "scale": {"domain": [-0.00127, 0.03295], "nice": false, "zero": false},
          "axis": {"values": [0, 0.005, 0.01, 0.015, 0.02, 0.025, 0.03],
            "labelExpr": "datum.value == 0 ? '0.0' : format(datum.value, '.3f')",
            "labelAngle": 270, "labelAlign": "center", "labelBaseline": "alphabetic", "labelPadding": 19.5,
            "title": "Standardized Intensity", "titleAngle": 270, "titleX": -56.5, "titleY": 359.5, "titleAlign": "center", "titleBaseline": "alphabetic"}},
        "color": {"field": "s", "type": "nominal",
          "scale": {"domain": ["Corn FPG", "Corn No FPG", "Fish FPG", "Fish No FPG"], "range": ["#000000", "#104E8B", "#8B0A50", "#008B00"]},
          "legend": {"title": null, "labelExpr": "datum.label + '\u00a0\u00a0\u00a0\u00a0\u00a0\u200b'"}}
      }
    },
    {
      "width": 466, "height": 719,
      "data": {"name": "d"},
      "transform": [{"filter": "datum.p == 'Duodenum'"}],
      "mark": {"type": "line", "strokeWidth": 2, "interpolate": "monotone"},
      "encoding": {
        "x": {"field": "x", "type": "quantitative",
          "scale": {"domain": [-39.2, 209.2], "nice": false, "zero": false},
          "axis": {"values": [0, 50, 100, 150, 200], "title": "Duodenum", "titleY": 79.5, "titleBaseline": "alphabetic", "labelPadding": 17, "labelFlush": false}},
        "y": {"field": "y", "type": "quantitative",
          "scale": {"domain": [-0.00127, 0.03295], "nice": false, "zero": false},
          "axis": {"values": [0, 0.005, 0.01, 0.015, 0.02, 0.025, 0.03],
            "labelExpr": "datum.value == 0 ? '0.0' : format(datum.value, '.3f')",
            "labelAngle": 270, "labelAlign": "center", "labelBaseline": "alphabetic", "labelPadding": 19.5,
            "title": "Standardized Intensity", "titleAngle": 270, "titleX": -56.5, "titleY": 359.5, "titleAlign": "center", "titleBaseline": "alphabetic"}},
        "color": {"field": "s", "type": "nominal",
          "scale": {"domain": ["Corn FPG", "Corn No FPG", "Fish FPG", "Fish No FPG"], "range": ["#000000", "#104E8B", "#8B0A50", "#008B00"]},
          "legend": {"title": null, "labelExpr": "datum.label + '\u00a0\u00a0\u00a0\u00a0\u00a0\u200b'"}}
      }
    }
  ]
}
